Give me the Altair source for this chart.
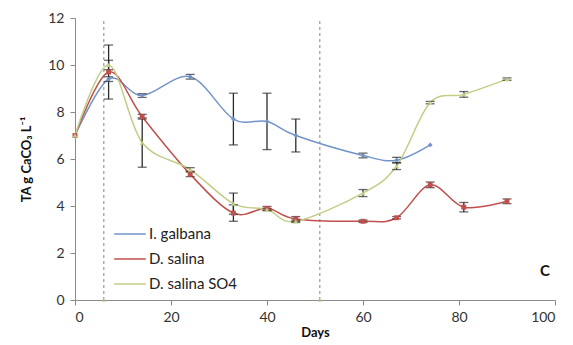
import altair as alt
import pandas as pd

# ---- data ----
series_names = ["I. galbana", "D. salina", "D. salina SO4"]
series_colors = ["#7394c8", "#c0504d", "#c2cd86"]
series_shapes = ["diamond", "square", "triangle-up"]

galbana_days = [0, 7, 14, 24, 33, 40, 46, 60, 67, 74]
galbana_ta = [7.0, 9.4, 8.7, 9.5, 7.7, 7.6, 7.0, 6.15, 5.95, 6.6]
galbana_err = [0.0, 0.1, 0.08, 0.1, 1.1, 1.2, 0.7, 0.1, 0.12, 0.0]

salina_days = [0, 7, 14, 24, 33, 40, 46, 60, 67, 74, 81, 90]
salina_ta = [7.0, 9.7, 7.8, 5.35, 3.7, 3.9, 3.45, 3.35, 3.5, 4.9, 3.95, 4.2]
salina_err = [0.0, 1.15, 0.1, 0.1, 0.35, 0.08, 0.1, 0.05, 0.05, 0.12, 0.2, 0.1]

so4_days = [0, 7, 14, 24, 33, 40, 46, 60, 67, 74, 81, 90]
so4_ta = [7.0, 10.0, 6.7, 5.55, 4.1, 3.85, 3.35, 4.55, 5.7, 8.4, 8.75, 9.4]
so4_err = [0.0, 0.2, 1.05, 0.08, 0.45, 0.05, 0.05, 0.15, 0.15, 0.05, 0.12, 0.05]

marker_days = [6, 51]
x_ticks = [0, 20, 40, 60, 80, 100]
y_ticks = [0, 2, 4, 6, 8, 10, 12]

rows = []
for name, d, v, e in [
    (series_names[0], galbana_days, galbana_ta, galbana_err),
    (series_names[1], salina_days, salina_ta, salina_err),
    (series_names[2], so4_days, so4_ta, so4_err),
]:
    for di, vi, ei in zip(d, v, e):
        rows.append({"series": name, "day": di, "ta": vi, "lo": vi - ei, "hi": vi + ei, "err": ei})
df = pd.DataFrame(rows)
err_df = df[df["err"] > 0]

vlines = pd.DataFrame({"day": marker_days, "y0": [0] * len(marker_days), "y1": [12] * len(marker_days)})

FONT = "Lato"
xscale = alt.Scale(domain=[0, 100], nice=False)
yscale = alt.Scale(domain=[0, 12], nice=False)
color = alt.Color(
    "series:N",
    scale=alt.Scale(domain=series_names, range=series_colors),
    legend=alt.Legend(
        title=None,
        orient="none",
        legendX=38,
        legendY=199,
        symbolType="stroke",
        symbolSize=1000,
        symbolStrokeWidth=1.5,
        labelFontSize=15,
        labelFont=FONT,
        labelColor="#222",
        rowPadding=-16,
        labelOffset=2,
    ),
)

x_axis = alt.Axis(values=x_ticks, grid=False, title="Days", titleFontWeight="bold",
                  titleFontSize=13, labelFontSize=14, tickSize=5, labelPadding=5, titlePadding=2)
y_axis = alt.Axis(values=y_ticks, grid=False, title="TA g CaCO₃ L⁻¹", titleFontWeight="bold",
                  titleFontSize=13, labelFontSize=14, tickSize=5, labelPadding=6, titlePadding=14)

base = alt.Chart(df)

dashes = alt.Chart(vlines).mark_rule(color="#9a9a9a", strokeDash=[3, 3], strokeWidth=1.2).encode(
    x=alt.X("day:Q", scale=xscale, axis=x_axis),
    y=alt.Y("y0:Q", scale=yscale, axis=y_axis),
    y2="y1:Q",
)
dash_pts = alt.Chart(vlines).mark_point(shape="triangle-up", filled=True, size=18, color="#b5c27a").encode(
    x=alt.X("day:Q", scale=xscale), y=alt.Y("y0:Q", scale=yscale)
)

lines = base.mark_line(interpolate="cardinal", strokeWidth=1.5).encode(
    x=alt.X("day:Q", scale=xscale, axis=x_axis),
    y=alt.Y("ta:Q", scale=yscale, axis=y_axis),
    color=color,
    detail="series:N",
)

point_layers = []
for name, col, shp in zip(series_names, series_colors, series_shapes):
    point_layers.append(
        base.transform_filter(alt.datum.series == name)
        .mark_point(filled=True, size=24, opacity=1, shape=shp, color=col)
        .encode(x=alt.X("day:Q", scale=xscale), y=alt.Y("ta:Q", scale=yscale))
    )

err_rules = alt.Chart(err_df).mark_rule(color="#2a2a2a", strokeWidth=1.3).encode(
    x=alt.X("day:Q", scale=xscale), y=alt.Y("lo:Q", scale=yscale), y2="hi:Q"
)
cap_lo = alt.Chart(err_df).mark_tick(color="#2a2a2a", orient="horizontal", size=9, thickness=1.3).encode(
    x=alt.X("day:Q", scale=xscale), y=alt.Y("lo:Q", scale=yscale)
)
cap_hi = alt.Chart(err_df).mark_tick(color="#2a2a2a", orient="horizontal", size=9, thickness=1.3).encode(
    x=alt.X("day:Q", scale=xscale), y=alt.Y("hi:Q", scale=yscale)
)

panel = alt.Chart(pd.DataFrame({"label": ["C"]})).mark_text(
    font=FONT, fontWeight="bold", fontSize=15, color="#111", align="center", baseline="middle"
).encode(text="label:N", x=alt.value(470), y=alt.value(253))

chart = alt.layer(dashes, dash_pts, lines, err_rules, cap_lo, cap_hi, *point_layers, panel).properties(
    width=480,
    height=282,
    autosize=alt.AutoSizeParams(type="none"),
    padding={"left": 67, "top": 10, "right": 10, "bottom": 40},
).configure_view(stroke=None).configure_axis(
    labelFont=FONT, titleFont=FONT, domainColor="#8a8a8a", tickColor="#8a8a8a",
    labelColor="#333", titleColor="#111",
).configure_axisY(titleAngle=270)

chart.save("out.html", embed_options={"renderer": "svg", "actions": False})
